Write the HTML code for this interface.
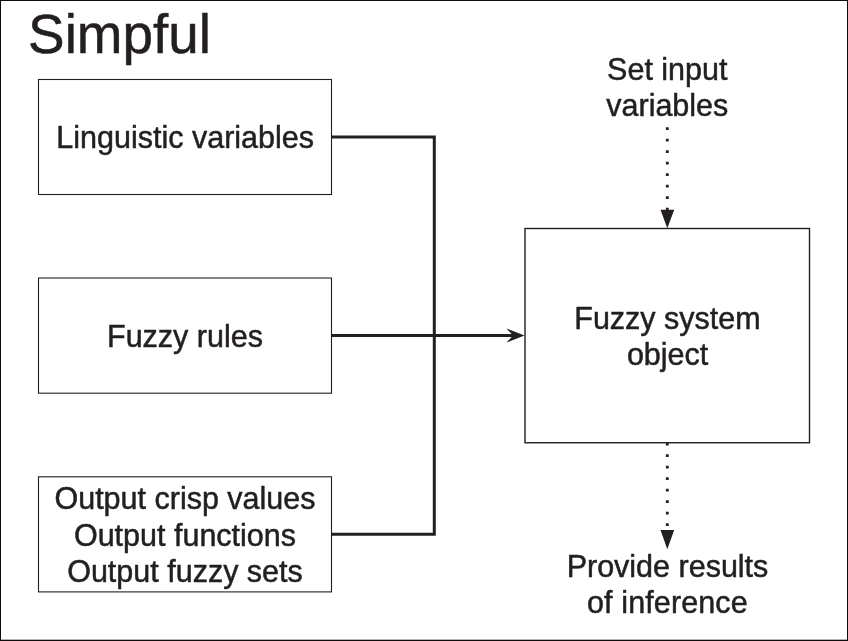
<!DOCTYPE html>
<html>
<head>
<meta charset="utf-8">
<title>Simpful</title>
<style>
html,body{margin:0;padding:0;background:#fff;}
body{width:848px;height:641px;overflow:hidden;position:relative;}
svg{position:absolute;left:0;top:0;display:block;will-change:transform;}
text{font-family:"Liberation Sans",Arial,Helvetica,sans-serif;fill:#231f20;stroke:#231f20;stroke-width:0.5px;stroke-linejoin:round;}
.t{font-size:30.5px;text-anchor:middle;}
.h{font-size:54.8px;}
.b{fill:none;stroke:#231f20;stroke-width:1.1;}
.c{fill:none;stroke:#231f20;stroke-width:3;stroke-linejoin:miter;}
.d{fill:none;stroke:#231f20;stroke-width:2.8;stroke-dasharray:2.8 8.7;}
.a{fill:#231f20;stroke:none;}
</style>
</head>
<body>
<svg width="848" height="641" viewBox="0 0 848 641">
<rect x="0" y="0" width="848" height="641" fill="#fff"/>
<!-- outer frame -->
<rect x="0.5" y="0.5" width="847" height="640" fill="none" stroke="#0d0b0c" stroke-width="1"/>
<rect x="0" y="639.7" width="848" height="1.3" fill="#0d0b0c"/>
<!-- boxes -->
<rect class="b" x="38.5" y="79.5" width="293" height="115"/>
<rect class="b" x="38.5" y="278" width="293" height="115.2"/>
<rect class="b" x="38.5" y="476.8" width="293" height="115.1"/>
<rect class="b" x="525" y="228.5" width="284.5" height="214.25" style="stroke-width:1.4"/>
<!-- connectors -->
<path class="c" d="M332 137 H434.3 V534.3 H332"/>
<path class="c" d="M332 335.5 H514"/>
<path class="a" d="M524.5 335.5 L506.5 328.5 L513 335.5 L506.5 342.5 Z"/>
<!-- dotted arrows -->
<path class="d" d="M667.3 127.3 V212"/>
<path class="a" d="M660.5 209.8 H674.2 L667.3 228.3 Z"/>
<path class="d" d="M667.3 442.8 V530"/>
<path class="a" d="M660.5 530 H674.2 L667.3 549.2 Z"/>
<!-- text -->
<text class="h" x="28.1" y="53.2">Simpful</text>
<text class="t" x="185.2" y="147.8">Linguistic variables</text>
<text class="t" x="185" y="346.5">Fuzzy rules</text>
<text class="t" x="185" y="509.2">Output crisp values</text>
<text class="t" x="185" y="545.6">Output functions</text>
<text class="t" x="185" y="582.1">Output fuzzy sets</text>
<text class="t" x="667.3" y="80">Set input</text>
<text class="t" x="667.3" y="116">variables</text>
<text class="t" x="667.5" y="328.7">Fuzzy system</text>
<text class="t" x="667.6" y="364.6">object</text>
<text class="t" x="667.5" y="576.7">Provide results</text>
<text class="t" x="667.4" y="612.6" style="letter-spacing:0.12px">of inference</text>
</svg>
</body>
</html>
